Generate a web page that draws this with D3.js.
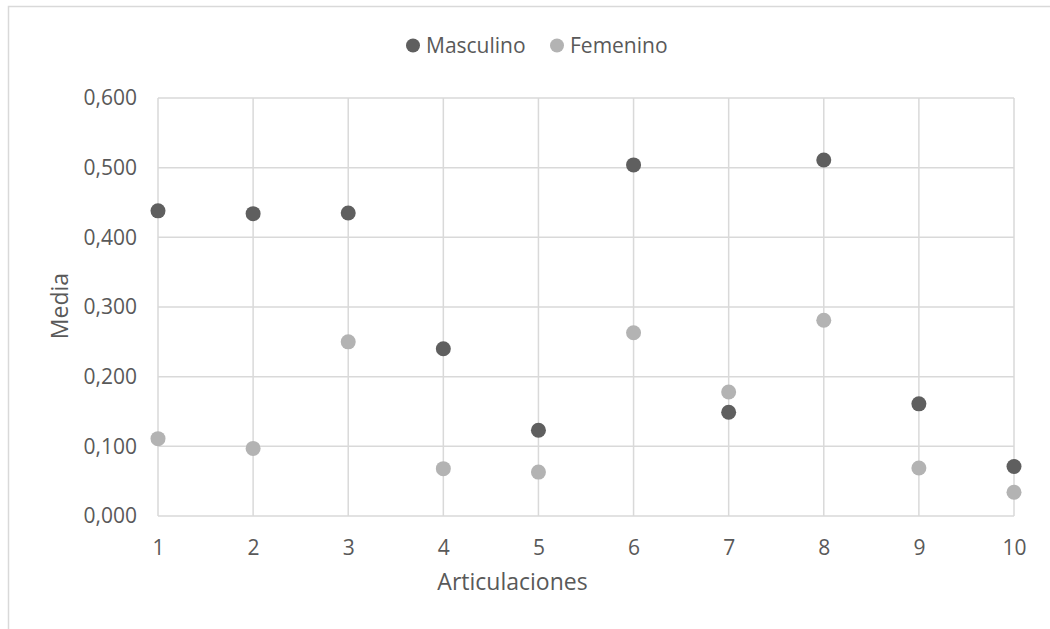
<!DOCTYPE html>
<html><head><meta charset="utf-8">
<script src="https://cdn.jsdelivr.net/npm/d3@7"></script>
<style>body{margin:0;background:#fff}svg{display:block}text{font-family:"Open Sans",sans-serif;fill:#595959}</style>
</head><body><svg id="c" width="1050" height="629"></svg>
<script>
const categories = [1,2,3,4,5,6,7,8,9,10];
const masculino = [0.438,0.434,0.435,0.240,0.123,0.504,0.149,0.511,0.161,0.071];
const femenino = [0.111,0.097,0.250,0.068,0.063,0.263,0.178,0.281,0.069,0.034];
const yTicks = [0,0.1,0.2,0.3,0.4,0.5,0.6];
const seriesNames = ["Masculino","Femenino"];
const colors = ["#5f5f5f","#b3b3b3"];

const svg = d3.select("#c");
// outer frame (cropped)
svg.append("path").attr("d","M8.5,629 L8.5,6.5 L1050,6.5").attr("fill","none").attr("stroke","#d9d9d9").attr("stroke-width",1.5);

const x = d3.scaleLinear().domain([1,10]).range([158,1014]);
const y = d3.scaleLinear().domain([0,0.6]).range([516,98]);

// gridlines
svg.append("g").selectAll("line").data(yTicks).join("line")
  .attr("x1",x(1)).attr("x2",x(10)).attr("y1",d=>y(d)).attr("y2",d=>y(d))
  .attr("stroke","#d9d9d9").attr("stroke-width",1.5);
svg.append("g").selectAll("line").data(categories).join("line")
  .attr("x1",d=>x(d)).attr("x2",d=>x(d)).attr("y1",y(0)).attr("y2",y(0.6))
  .attr("stroke","#d9d9d9").attr("stroke-width",1.5);

const fmt = v => d3.format(".3f")(v).replace(".",",");
const yAxis = d3.axisLeft(y).tickValues(yTicks).tickFormat(fmt).tickSize(0).tickPadding(21);
const gy = svg.append("g").attr("transform",`translate(${x(1)},0)`).call(yAxis);
gy.select(".domain").remove();
gy.selectAll("text").attr("font-size",21).style("fill","#595959").attr("font-family","Open Sans");

const xAxis = d3.axisBottom(x).tickValues(categories).tickFormat(d3.format("d")).tickSize(0).tickPadding(24);
const gx = svg.append("g").attr("transform",`translate(0,${y(0)})`).call(xAxis);
gx.select(".domain").remove();
gx.selectAll("text").attr("font-size",21).style("fill","#595959").attr("font-family","Open Sans");

// points
[masculino,femenino].forEach((s,i)=>{
  svg.append("g").selectAll("circle").data(s).join("circle")
    .attr("cx",(d,j)=>x(categories[j])).attr("cy",d=>y(d)).attr("r",7.5).attr("fill",colors[i]);
});

// axis titles
svg.append("text").attr("x",512.5).attr("y",590).attr("text-anchor","middle").attr("font-size",23).text("Articulaciones");
svg.append("text").attr("transform","translate(68,306) rotate(-90)").attr("text-anchor","middle").attr("font-size",23).text("Media");

// legend
const leg = [{x:413,tx:426},{x:557,tx:570}];
seriesNames.forEach((n,i)=>{
  svg.append("circle").attr("cx",leg[i].x).attr("cy",45.5).attr("r",7).attr("fill",colors[i]);
  svg.append("text").attr("x",leg[i].tx).attr("y",52.5).attr("font-size",21).text(n);
});
</script></body></html>
